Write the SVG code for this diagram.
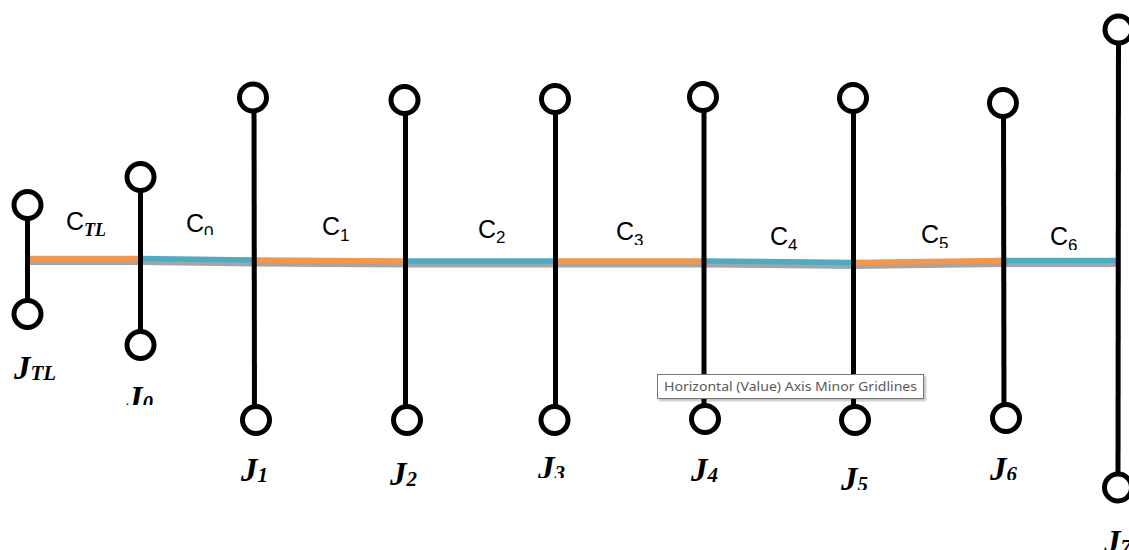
<svg xmlns="http://www.w3.org/2000/svg" width="1129" height="550" viewBox="0 0 1129 550">
<style>
.stem{stroke:#000;stroke-width:5;fill:none}
.node{fill:#fff;stroke:#000;stroke-width:5}
.shadow{stroke:#A5A5A5;stroke-width:5;fill:none}
.org{stroke:#F79646;stroke-width:5.5;fill:none}
.blu{stroke:#4BACC6;stroke-width:5.5;fill:none}
.c{font-family:"Liberation Sans",Arial,sans-serif;font-size:25px;fill:#000}
.cs{font-size:17px}
.cit{font-family:"Liberation Serif","Times New Roman",serif;font-weight:bold;font-style:italic;font-size:18px}
.j{font-family:"Liberation Serif","Times New Roman",serif;font-weight:bold;font-style:italic;font-size:33px;fill:#000}
.js{font-size:21px}
.tip{font-family:"Noto Sans","Open Sans",sans-serif;font-size:13px;fill:#5a5a5a}
</style>
<defs>
<clipPath id="k0"><rect x="180" y="200" width="50" height="35"/></clipPath>
<clipPath id="k3"><rect x="610" y="200" width="50" height="45"/></clipPath>
<clipPath id="k4"><rect x="765" y="200" width="50" height="50"/></clipPath>
<clipPath id="k5"><rect x="915" y="200" width="50" height="48"/></clipPath>
<clipPath id="k6"><rect x="1045" y="200" width="50" height="50"/></clipPath>
<clipPath id="q0"><rect x="115" y="370" width="50" height="35"/></clipPath>
<clipPath id="q2"><rect x="380" y="440" width="50" height="46"/></clipPath>
<clipPath id="q3"><rect x="530" y="440" width="50" height="38"/></clipPath>
<clipPath id="q5"><rect x="830" y="440" width="50" height="50"/></clipPath>
<clipPath id="q6"><rect x="980" y="440" width="50" height="40"/></clipPath>
<filter id="ts" x="-5%" y="-20%" width="110%" height="160%"><feDropShadow dx="2" dy="2" stdDeviation="1.2" flood-color="#000" flood-opacity="0.25"/></filter>
</defs>

<g id="connectors">
<polyline class="shadow" points="27,262.5 140,262.5 253,264 405,265 555,265 705,265 853,266.5 1003,264.5 1118,264.5"/>
<line class="org" x1="27" y1="258.5" x2="140" y2="258.5"/>
<line class="blu" x1="140" y1="258.5" x2="253" y2="260"/>
<line class="org" x1="253" y1="260" x2="405" y2="261"/>
<line class="blu" x1="405" y1="261" x2="555" y2="261"/>
<line class="org" x1="555" y1="261" x2="705" y2="261"/>
<line class="blu" x1="705" y1="261" x2="853" y2="262.5"/>
<line class="org" x1="853" y1="262.5" x2="1003" y2="260.5"/>
<line class="blu" x1="1003" y1="260.5" x2="1118" y2="260.5"/>
</g>

<g id="J_TL">
<line class="stem" x1="27.5" y1="205" x2="27.5" y2="314"/>
<circle class="node" cx="27.5" cy="205" r="13.5"/>
<circle class="node" cx="27.5" cy="314" r="13.5"/>
<text class="j" x="14" y="379">J<tspan class="js" dy="1">TL</tspan></text>
</g>
<g id="J0">
<line class="stem" x1="140.5" y1="177" x2="140.5" y2="345"/>
<circle class="node" cx="140.5" cy="177" r="13.5"/>
<circle class="node" cx="140.5" cy="345" r="13.5"/>
<text class="j" x="126" y="409" clip-path="url(#q0)">J<tspan class="js" dy="1">0</tspan></text>
</g>
<g id="J1">
<line class="stem" x1="254" y1="97.5" x2="254.5" y2="420"/>
<circle class="node" cx="253" cy="97.5" r="13.5"/>
<circle class="node" cx="256" cy="420" r="13.5"/>
<text class="j" x="241" y="481">J<tspan class="js" dy="1">1</tspan></text>
</g>
<g id="J2">
<line class="stem" x1="405.5" y1="100" x2="405.5" y2="420"/>
<circle class="node" cx="404.5" cy="100" r="13.5"/>
<circle class="node" cx="407" cy="420" r="13.5"/>
<text class="j" x="390" y="485" clip-path="url(#q2)">J<tspan class="js" dy="1">2</tspan></text>
</g>
<g id="J3">
<line class="stem" x1="555.5" y1="99" x2="555.5" y2="420"/>
<circle class="node" cx="555" cy="99" r="13.5"/>
<circle class="node" cx="554.5" cy="420" r="13.5"/>
<text class="j" x="538" y="479" clip-path="url(#q3)">J<tspan class="js" dy="1">3</tspan></text>
</g>
<g id="J4">
<line class="stem" x1="704" y1="97" x2="704" y2="419"/>
<circle class="node" cx="703" cy="97" r="13.5"/>
<circle class="node" cx="705" cy="419" r="13.5"/>
<text class="j" x="691" y="481">J<tspan class="js" dy="1">4</tspan></text>
</g>
<g id="J5">
<line class="stem" x1="853.5" y1="98" x2="853.5" y2="420"/>
<circle class="node" cx="853" cy="98" r="13.5"/>
<circle class="node" cx="855" cy="420" r="13.5"/>
<text class="j" x="841" y="490" clip-path="url(#q5)">J<tspan class="js" dy="1">5</tspan></text>
</g>
<g id="J6">
<line class="stem" x1="1003.5" y1="103" x2="1004" y2="418"/>
<circle class="node" cx="1003" cy="103" r="13.5"/>
<circle class="node" cx="1006" cy="418" r="13.5"/>
<text class="j" x="990" y="480" clip-path="url(#q6)">J<tspan class="js" dy="1">6</tspan></text>
</g>
<g id="J7">
<line class="stem" x1="1118.5" y1="29.5" x2="1118" y2="487.5"/>
<circle class="node" cx="1118.5" cy="29.5" r="13.5"/>
<circle class="node" cx="1118" cy="487.5" r="13.5"/>
<text class="j" x="1104" y="553">J<tspan class="js" dy="1">7</tspan></text>
</g>

<g id="labels">
<text class="c" x="66" y="230">C<tspan class="cit" dy="6">TL</tspan></text>
<text class="c" x="186" y="232" clip-path="url(#k0)">C<tspan class="cs" dy="6">0</tspan></text>
<text class="c" x="322" y="235">C<tspan class="cs" dy="6">1</tspan></text>
<text class="c" x="478" y="238">C<tspan class="cs" dy="5">2</tspan></text>
<text class="c" x="616" y="240" clip-path="url(#k3)">C<tspan class="cs" dy="6">3</tspan></text>
<text class="c" x="770" y="245" clip-path="url(#k4)">C<tspan class="cs" dy="6">4</tspan></text>
<text class="c" x="921" y="243" clip-path="url(#k5)">C<tspan class="cs" dy="6">5</tspan></text>
<text class="c" x="1050" y="245" clip-path="url(#k6)">C<tspan class="cs" dy="6">6</tspan></text>
</g>

<g id="tooltip">
<rect x="657.5" y="374.5" width="266" height="24" fill="#fff" stroke="#767676" stroke-width="1" filter="url(#ts)"/>
<text class="tip" x="664" y="391" textLength="253" lengthAdjust="spacingAndGlyphs">Horizontal (Value) Axis Minor Gridlines</text>
</g>
</svg>
